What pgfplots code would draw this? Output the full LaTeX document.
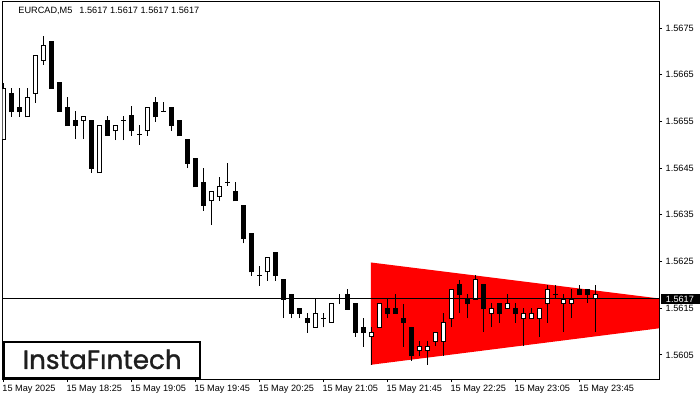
\documentclass[border=0pt]{standalone}
\usepackage{graphicx}
\usepackage{pgfplots}
\pgfplotsset{compat=1.18}
\usepackage{pgfplotstable}
\usepackage{fontspec}
\setmainfont{Liberation Sans}
\newfontfamily\logofont{Poppins}[FakeBold=1.2]
\definecolor{logogray}{RGB}{30,30,30}

% EURCAD M5 candles, bullish (close >= open)
\pgfplotstableread{
i o h l c
0 1.56512 1.56633 1.56512 1.56621
3 1.56560 1.56621 1.56560 1.56602
4 1.56610 1.56692 1.56590 1.56692
5 1.56680 1.56733 1.56671 1.56712
10 1.56551 1.56560 1.56512 1.56560
12 1.56440 1.56541 1.56440 1.56541
14 1.56530 1.56542 1.56510 1.56542
18 1.56530 1.56580 1.56519 1.56580
26 1.56380 1.56400 1.56328 1.56400
27 1.56390 1.56430 1.56380 1.56410
33 1.56228 1.56259 1.56209 1.56259
39 1.56109 1.56170 1.56109 1.56139
41 1.56119 1.56161 1.56119 1.56161
46 1.56089 1.56110 1.56029 1.56099
47 1.56109 1.56161 1.56109 1.56161
52 1.56059 1.56080 1.56048 1.56069
53 1.56059 1.56080 1.56029 1.56069
54 1.56079 1.56099 1.56069 1.56099
55 1.56079 1.56139 1.56048 1.56120
56 1.56129 1.56191 1.56109 1.56191
59 1.56169 1.56221 1.56169 1.56211
61 1.56139 1.56161 1.56109 1.56150
63 1.56150 1.56180 1.56150 1.56161
65 1.56129 1.56150 1.56069 1.56139
66 1.56129 1.56150 1.56129 1.56139
67 1.56129 1.56149 1.56089 1.56149
68 1.56161 1.56200 1.56119 1.56191
70 1.56161 1.56180 1.56099 1.56169
71 1.56161 1.56191 1.56129 1.56169
74 1.56170 1.56200 1.56099 1.56180
}\bull

% bearish and doji candles
\pgfplotstableread{
i o h l c
1 1.56610 1.56621 1.56560 1.56571
2 1.56580 1.56621 1.56560 1.56571
6 1.56722 1.56722 1.56620 1.56620
7 1.56633 1.56633 1.56571 1.56571
8 1.56580 1.56603 1.56541 1.56541
9 1.56551 1.56572 1.56512 1.56541
11 1.56551 1.56551 1.56440 1.56450
13 1.56551 1.56562 1.56520 1.56520
15 1.56551 1.56562 1.56510 1.56551
16 1.56562 1.56582 1.56519 1.56530
17 1.56521 1.56542 1.56500 1.56521
19 1.56591 1.56603 1.56549 1.56560
20 1.56572 1.56591 1.56572 1.56572
21 1.56580 1.56580 1.56530 1.56541
22 1.56551 1.56551 1.56519 1.56519
23 1.56512 1.56512 1.56450 1.56460
24 1.56471 1.56471 1.56410 1.56410
25 1.56420 1.56450 1.56359 1.56370
28 1.56420 1.56460 1.56412 1.56420
29 1.56400 1.56420 1.56380 1.56380
30 1.56371 1.56371 1.56289 1.56300
31 1.56311 1.56311 1.56220 1.56228
32 1.56220 1.56241 1.56198 1.56220
34 1.56270 1.56270 1.56209 1.56220
35 1.56211 1.56211 1.56129 1.56169
36 1.56180 1.56180 1.56129 1.56139
37 1.56150 1.56150 1.56129 1.56139
38 1.56129 1.56139 1.56098 1.56119
40 1.56129 1.56139 1.56109 1.56129
42 1.56170 1.56180 1.56159 1.56170
43 1.56180 1.56191 1.56148 1.56148
44 1.56161 1.56161 1.56089 1.56098
45 1.56109 1.56129 1.56068 1.56098
48 1.56150 1.56170 1.56129 1.56139
49 1.56150 1.56180 1.56139 1.56139
50 1.56129 1.56159 1.56068 1.56119
51 1.56109 1.56109 1.56038 1.56048
57 1.56200 1.56211 1.56139 1.56180
58 1.56169 1.56180 1.56129 1.56160
60 1.56200 1.56200 1.56099 1.56149
62 1.56161 1.56161 1.56119 1.56139
64 1.56150 1.56161 1.56119 1.56139
69 1.56180 1.56200 1.56170 1.56180
72 1.56191 1.56200 1.56180 1.56180
73 1.56191 1.56191 1.56161 1.56180
}\bear

% symmetrical triangle pattern
\pgfplotstableread{
x y
45.96 1.56248
81.96 1.56171
81.96 1.56107
45.96 1.56029
}\tri

\pgfplotsset{
  candle/.style={draw=none, mark=none, forget plot,
    error bars/.cd, y dir=plus, y explicit, error mark=none},
}

\begin{document}
\begin{tikzpicture}
\useasboundingbox (0,0) rectangle (700bp,-400bp);
\begin{axis}[
  at={(2.5bp,-379bp)}, anchor=south west,
  scale only axis, width=656.5bp, height=377bp,
  xmin=-0.1, xmax=81.96,
  ymin=1.559985, ymax=1.568057,
  axis line style={line width=1bp, black},
  tick style={black, line width=1bp},
  tick align=outside, major tick length=3bp,
  xtick pos=left, ytick pos=right,
  yticklabel pos=right,
  xtick={0,8,16,24,32,40,48,56,64,72},
  xticklabels={15 May 2025,15 May 18:25,15 May 19:05,15 May 19:45,15 May 20:25,15 May 21:05,15 May 21:45,15 May 22:25,15 May 23:05,15 May 23:45},
  ytick={1.5605,1.5615,1.5625,1.5635,1.5645,1.5655,1.5665,1.5675},
  yticklabels={1.5605,1.5615,1.5625,1.5635,1.5645,1.5655,1.5665,1.5675},
  tick label style={font=\fontsize{9.2}{10}\selectfont, inner sep=0pt},
  xticklabel style={anchor=north west, xshift=-1bp, yshift=-3bp},
  yticklabel style={anchor=west, xshift=3.5bp},
]
\addplot[fill=red, draw=none, forget plot] table {\tri} -- cycle;

% wicks
\addplot[candle, error bar style={draw=black, line width=1bp}]
  table[x=i, y=l, y error expr=\thisrow{h}-\thisrow{l}] {\bull};
\addplot[candle, error bar style={draw=black, line width=1bp}]
  table[x=i, y=l, y error expr=\thisrow{h}-\thisrow{l}] {\bear};

% bodies
\addplot[candle, error bar style={draw=black, line width=5bp, shorten <=-0.5bp, shorten >=-0.5bp}]
  table[x=i, y=o, y error expr=\thisrow{c}-\thisrow{o}] {\bull};
\addplot[candle, error bar style={draw=white, line width=3bp, shorten <=0.5bp, shorten >=0.5bp}]
  table[x=i, y=o, y error expr=\thisrow{c}-\thisrow{o}] {\bull};
\addplot[candle, error bar style={draw=black, line width=5bp, shorten <=-0.5bp, shorten >=-0.5bp}]
  table[x=i, y=c, y error expr=\thisrow{o}-\thisrow{c}] {\bear};

% bid line
\addplot[black, line width=1bp, forget plot] coordinates {(-0.1,1.5617) (81.96,1.5617)};
\coordinate (pl) at (axis cs:81.96,1.5617);
\end{axis}

% price tag
\fill[black] ([xshift=1.5bp,yshift=4.8bp]pl) rectangle (700bp,-304bp);
\node[white, anchor=west, inner sep=0pt, font=\fontsize{9.2}{10}\selectfont] at ([xshift=6.7bp]pl) {1.5617};

% header
\node[anchor=west, inner sep=0pt, font=\fontsize{9.2}{10}\selectfont] at (18.3bp,-10.5bp)
  {EURCAD,M5\hspace{7bp}1.5617 1.5617 1.5617 1.5617};

% logo
\draw[line width=2.3bp, fill=white] (3.8bp,-341.8bp) rectangle (199.9bp,-377.9bp);
\node[inner sep=0pt, text=logogray] at (102.2bp,-359.3bp)
  {\resizebox{159bp}{!}{\logofont InstaF\i ntech}};
\end{tikzpicture}
\end{document}
